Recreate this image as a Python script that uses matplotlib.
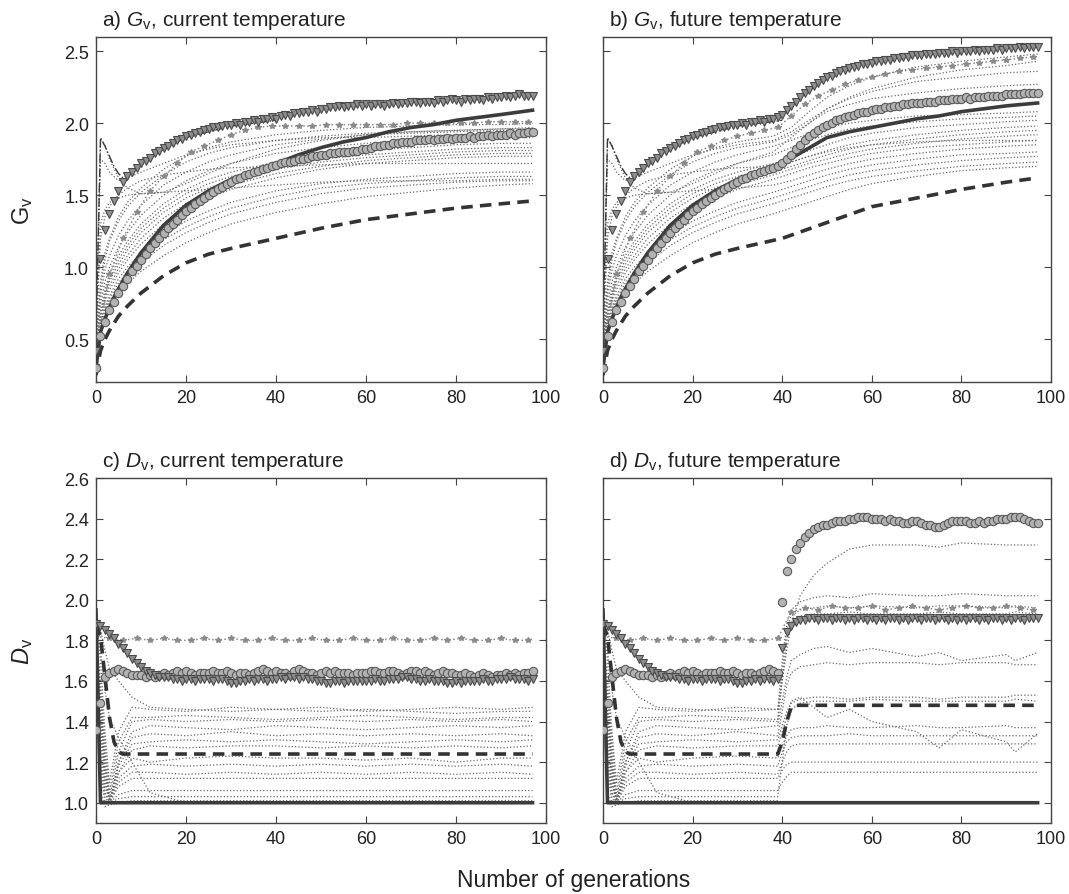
import matplotlib
matplotlib.use("Agg")
import matplotlib.pyplot as plt

plt.rcParams['font.family'] = ['Liberation Sans', 'DejaVu Sans']
plt.rcParams['mathtext.fontset'] = 'custom'
plt.rcParams['mathtext.rm'] = 'Liberation Sans'
plt.rcParams['mathtext.it'] = 'Liberation Sans:italic'

# generations 0..97 (marker series are given for every generation)
gens = list(range(98))
star_x = list(range(0, 98, 3))

# ---- a) Gv, current temperature ----
tri_a = [
    0.42, 1.06, 1.26, 1.37, 1.46, 1.53, 1.59, 1.63, 1.66, 1.69,
    1.72, 1.74, 1.76, 1.79, 1.81, 1.83, 1.84, 1.86, 1.88, 1.89,
    1.91, 1.92, 1.93, 1.94, 1.95, 1.96, 1.97, 1.97, 1.98, 1.99,
    1.99, 2.00, 1.99, 2.01, 2.01, 2.02, 2.01, 2.03, 2.03, 2.04,
    2.03, 2.05, 2.06, 2.05, 2.07, 2.07, 2.08, 2.08, 2.09, 2.08,
    2.10, 2.10, 2.11, 2.11, 2.12, 2.11, 2.12, 2.12, 2.13, 2.12,
    2.13, 2.12, 2.13, 2.13, 2.12, 2.13, 2.14, 2.13, 2.14, 2.14,
    2.15, 2.15, 2.14, 2.15, 2.15, 2.14, 2.16, 2.15, 2.16, 2.17,
    2.16, 2.15, 2.17, 2.16, 2.17, 2.17, 2.16, 2.18, 2.17, 2.18,
    2.18, 2.19, 2.18, 2.19, 2.20, 2.19, 2.19, 2.19]
circ_a = [
    0.30, 0.52, 0.62, 0.70, 0.76, 0.82, 0.87, 0.92, 0.97, 1.01,
    1.05, 1.09, 1.13, 1.17, 1.20, 1.24, 1.27, 1.30, 1.33, 1.36,
    1.39, 1.41, 1.44, 1.46, 1.48, 1.50, 1.52, 1.54, 1.56, 1.58,
    1.59, 1.61, 1.62, 1.64, 1.65, 1.66, 1.67, 1.68, 1.69, 1.70,
    1.71, 1.72, 1.73, 1.73, 1.74, 1.75, 1.75, 1.76, 1.77, 1.77,
    1.78, 1.78, 1.79, 1.79, 1.80, 1.80, 1.80, 1.81, 1.81, 1.82,
    1.82, 1.83, 1.84, 1.84, 1.85, 1.85, 1.86, 1.86, 1.87, 1.87,
    1.87, 1.88, 1.88, 1.88, 1.89, 1.88, 1.89, 1.89, 1.90, 1.89,
    1.90, 1.90, 1.90, 1.91, 1.90, 1.91, 1.91, 1.92, 1.91, 1.92,
    1.92, 1.92, 1.93, 1.92, 1.93, 1.93, 1.94, 1.94]
star_a = [0.42, 0.95, 1.20, 1.38, 1.53, 1.63, 1.72, 1.80, 1.84, 1.88,
          1.92, 1.95, 1.97, 1.98, 1.98, 1.98, 1.98, 1.99, 1.99, 1.99,
          1.99, 1.99, 1.99, 2.00, 2.00, 2.00, 2.00, 2.00, 2.00, 2.01,
          2.01, 2.01, 2.01]
sol_x_ab = [0, 1, 2, 3, 4, 5, 7, 10, 15, 20, 25, 30, 35, 40, 45, 50, 55,
            60, 65, 70, 75, 80, 85, 90, 97]
sol_a = [0.30, 0.55, 0.64, 0.72, 0.79, 0.85, 0.96, 1.10, 1.29, 1.43, 1.53,
         1.61, 1.67, 1.72, 1.78, 1.83, 1.87, 1.90, 1.94, 1.97, 1.99, 2.02,
         2.04, 2.06, 2.09]
dash_x_ab = [0, 1, 2, 3, 5, 7, 10, 15, 20, 25, 30, 40, 50, 60, 70, 80, 90, 97]
dash_a = [0.25, 0.42, 0.50, 0.56, 0.66, 0.73, 0.82, 0.94, 1.03, 1.09, 1.13,
          1.20, 1.27, 1.33, 1.37, 1.41, 1.44, 1.46]
dd_x = [0, 1, 2, 3, 4, 5, 6, 8, 10, 15, 20, 30, 40]
dd_ab = [0.50, 1.90, 1.84, 1.77, 1.70, 1.65, 1.62, 1.66, 1.71, 1.82, 1.90,
         1.98, 2.02]
xa = [0, 1, 2, 3, 5, 7, 10, 15, 20, 25, 30, 40, 50, 60, 70, 80, 90, 97]
dots_a = [
    [0.50, 0.90, 1.10, 1.20, 1.35, 1.45, 1.55, 1.68, 1.77, 1.83, 1.87, 1.92, 1.95, 1.97, 1.98, 1.99, 1.99, 2.00],
    [0.50, 1.88, 1.85, 1.75, 1.62, 1.55, 1.51, 1.52, 1.58, 1.65, 1.72, 1.82, 1.88, 1.92, 1.94, 1.95, 1.96, 1.97],
    [0.50, 1.75, 1.72, 1.66, 1.60, 1.62, 1.66, 1.72, 1.78, 1.82, 1.85, 1.88, 1.90, 1.90, 1.91, 1.92, 1.92, 1.93],
    [0.45, 0.80, 0.98, 1.08, 1.22, 1.32, 1.43, 1.57, 1.66, 1.73, 1.78, 1.85, 1.89, 1.92, 1.93, 1.94, 1.95, 1.95],
    [0.45, 0.75, 0.90, 1.00, 1.14, 1.24, 1.36, 1.50, 1.60, 1.67, 1.72, 1.79, 1.83, 1.86, 1.88, 1.89, 1.90, 1.90],
    [0.42, 0.70, 0.85, 0.95, 1.08, 1.18, 1.30, 1.44, 1.54, 1.61, 1.66, 1.73, 1.78, 1.81, 1.83, 1.85, 1.86, 1.86],
    [0.42, 0.68, 0.82, 0.92, 1.05, 1.15, 1.27, 1.41, 1.51, 1.58, 1.63, 1.70, 1.75, 1.78, 1.80, 1.82, 1.83, 1.83],
    [0.40, 0.66, 0.80, 0.90, 1.02, 1.12, 1.24, 1.38, 1.48, 1.55, 1.60, 1.68, 1.73, 1.76, 1.78, 1.80, 1.81, 1.81],
    [0.40, 0.64, 0.78, 0.87, 0.99, 1.08, 1.20, 1.34, 1.44, 1.52, 1.57, 1.65, 1.70, 1.74, 1.76, 1.78, 1.79, 1.79],
    [0.40, 0.62, 0.75, 0.84, 0.96, 1.05, 1.16, 1.30, 1.40, 1.48, 1.54, 1.62, 1.68, 1.72, 1.74, 1.76, 1.77, 1.77],
    [0.50, 1.30, 1.40, 1.45, 1.48, 1.50, 1.51, 1.52, 1.53, 1.54, 1.55, 1.57, 1.59, 1.60, 1.60, 1.60, 1.61, 1.61],
    [0.38, 0.60, 0.72, 0.80, 0.92, 1.00, 1.10, 1.22, 1.32, 1.39, 1.45, 1.53, 1.58, 1.61, 1.63, 1.65, 1.66, 1.66],
    [0.38, 0.58, 0.70, 0.78, 0.89, 0.97, 1.07, 1.19, 1.28, 1.35, 1.41, 1.49, 1.55, 1.58, 1.60, 1.62, 1.63, 1.63],
    [0.36, 0.56, 0.68, 0.76, 0.86, 0.94, 1.03, 1.15, 1.24, 1.31, 1.37, 1.45, 1.51, 1.55, 1.57, 1.59, 1.60, 1.60],
    [0.35, 0.55, 0.65, 0.72, 0.82, 0.89, 0.97, 1.08, 1.17, 1.24, 1.30, 1.38, 1.44, 1.49, 1.52, 1.55, 1.57, 1.58],
    [0.50, 1.20, 1.35, 1.42, 1.50, 1.55, 1.60, 1.64, 1.66, 1.68, 1.69, 1.70, 1.71, 1.72, 1.72, 1.72, 1.72, 1.72],
    [0.45, 0.85, 1.05, 1.18, 1.32, 1.42, 1.52, 1.64, 1.73, 1.79, 1.83, 1.88, 1.91, 1.93, 1.94, 1.95, 1.96, 1.96],
]

# ---- b) Gv, future temperature (same runs as a) up to generation 40) ----
tri_b = tri_a[:39] + [
    2.04, 2.06, 2.09, 2.12, 2.15, 2.18, 2.21, 2.23, 2.26, 2.28, 2.30,
    2.32, 2.33, 2.35, 2.36, 2.37, 2.38, 2.39, 2.40, 2.41, 2.41,
    2.42, 2.43, 2.43, 2.44, 2.44, 2.45, 2.45, 2.46, 2.46, 2.47,
    2.47, 2.47, 2.48, 2.48, 2.48, 2.49, 2.49, 2.49, 2.50, 2.49,
    2.50, 2.50, 2.50, 2.51, 2.50, 2.51, 2.51, 2.51, 2.52, 2.51,
    2.52, 2.52, 2.52, 2.53, 2.52, 2.53, 2.53, 2.53]
circ_b = circ_a[:40] + [
    1.72, 1.75, 1.78, 1.82, 1.85, 1.88, 1.91, 1.93, 1.95, 1.97,
    1.99, 2.00, 2.02, 2.03, 2.04, 2.05, 2.06, 2.07, 2.08, 2.08,
    2.09, 2.10, 2.10, 2.11, 2.11, 2.12, 2.12, 2.13, 2.13, 2.14,
    2.14, 2.14, 2.15, 2.15, 2.15, 2.16, 2.16, 2.16, 2.17, 2.17,
    2.17, 2.18, 2.17, 2.18, 2.18, 2.18, 2.19, 2.19, 2.19, 2.19,
    2.20, 2.20, 2.20, 2.20, 2.21, 2.21, 2.21, 2.21]
star_b = [0.42, 0.95, 1.20, 1.38, 1.53, 1.63, 1.72, 1.80, 1.84, 1.88,
          1.91, 1.93, 1.95, 1.97, 2.05, 2.13, 2.19, 2.23, 2.27, 2.30,
          2.32, 2.34, 2.36, 2.37, 2.38, 2.39, 2.40, 2.41, 2.42, 2.43,
          2.44, 2.45, 2.46]
sol_b = sol_a[:14] + [1.81, 1.90, 1.94, 1.97, 2.00, 2.03, 2.05, 2.08, 2.10,
                      2.12, 2.14]
dash_b = dash_a[:12] + [1.31, 1.42, 1.48, 1.54, 1.59, 1.62]
xb = [0, 1, 2, 3, 5, 7, 10, 15, 20, 25, 30, 38, 42, 46, 50, 55, 60, 70, 80, 90, 97]
dots_b = [
    [0.50, 0.90, 1.10, 1.20, 1.35, 1.45, 1.55, 1.68, 1.77, 1.83, 1.87, 1.91, 1.97, 2.08, 2.18, 2.26, 2.32, 2.39, 2.43, 2.46, 2.48],
    [0.50, 1.88, 1.85, 1.75, 1.62, 1.55, 1.51, 1.52, 1.58, 1.65, 1.72, 1.80, 1.90, 2.00, 2.10, 2.18, 2.24, 2.32, 2.37, 2.40, 2.43],
    [0.50, 1.75, 1.72, 1.66, 1.60, 1.62, 1.66, 1.72, 1.78, 1.82, 1.85, 1.88, 1.94, 2.02, 2.10, 2.17, 2.22, 2.29, 2.32, 2.35, 2.36],
    [0.45, 0.80, 0.98, 1.08, 1.22, 1.32, 1.43, 1.57, 1.66, 1.73, 1.78, 1.84, 1.88, 1.93, 1.97, 2.00, 2.02, 2.05, 2.06, 2.07, 2.08],
    [0.45, 0.75, 0.90, 1.00, 1.14, 1.24, 1.36, 1.50, 1.60, 1.67, 1.72, 1.78, 1.83, 1.88, 1.92, 1.96, 1.98, 2.01, 2.03, 2.04, 2.05],
    [0.42, 0.70, 0.85, 0.95, 1.08, 1.18, 1.30, 1.44, 1.54, 1.61, 1.66, 1.72, 1.76, 1.81, 1.85, 1.90, 1.93, 1.97, 1.99, 2.01, 2.02],
    [0.42, 0.68, 0.82, 0.92, 1.05, 1.15, 1.27, 1.41, 1.51, 1.58, 1.63, 1.69, 1.73, 1.77, 1.81, 1.85, 1.88, 1.92, 1.95, 1.97, 1.98],
    [0.40, 0.66, 0.80, 0.90, 1.02, 1.12, 1.24, 1.38, 1.48, 1.55, 1.60, 1.66, 1.70, 1.74, 1.78, 1.82, 1.85, 1.89, 1.92, 1.94, 1.95],
    [0.40, 0.64, 0.78, 0.87, 0.99, 1.08, 1.20, 1.34, 1.44, 1.52, 1.57, 1.64, 1.68, 1.72, 1.75, 1.79, 1.82, 1.86, 1.89, 1.91, 1.92],
    [0.40, 0.62, 0.75, 0.84, 0.96, 1.05, 1.16, 1.30, 1.40, 1.48, 1.54, 1.61, 1.65, 1.69, 1.72, 1.76, 1.79, 1.83, 1.85, 1.87, 1.88],
    [0.50, 1.30, 1.40, 1.45, 1.48, 1.50, 1.51, 1.52, 1.53, 1.54, 1.55, 1.57, 1.60, 1.64, 1.68, 1.72, 1.75, 1.79, 1.82, 1.84, 1.85],
    [0.38, 0.60, 0.72, 0.80, 0.92, 1.00, 1.10, 1.22, 1.32, 1.39, 1.45, 1.52, 1.56, 1.60, 1.64, 1.68, 1.71, 1.75, 1.78, 1.79, 1.80],
    [0.38, 0.58, 0.70, 0.78, 0.89, 0.97, 1.07, 1.19, 1.28, 1.35, 1.41, 1.48, 1.52, 1.56, 1.60, 1.64, 1.67, 1.71, 1.74, 1.76, 1.77],
    [0.36, 0.56, 0.68, 0.76, 0.86, 0.94, 1.03, 1.15, 1.24, 1.31, 1.37, 1.44, 1.48, 1.52, 1.56, 1.60, 1.63, 1.67, 1.70, 1.72, 1.73],
    [0.35, 0.55, 0.65, 0.72, 0.82, 0.89, 0.97, 1.08, 1.17, 1.24, 1.30, 1.37, 1.41, 1.45, 1.49, 1.54, 1.58, 1.63, 1.67, 1.69, 1.70],
    [0.50, 1.20, 1.35, 1.42, 1.50, 1.55, 1.60, 1.64, 1.66, 1.68, 1.69, 1.70, 1.73, 1.77, 1.80, 1.83, 1.85, 1.87, 1.88, 1.88, 1.88],
    [0.45, 0.85, 1.05, 1.18, 1.32, 1.42, 1.52, 1.64, 1.73, 1.79, 1.83, 1.87, 1.92, 2.00, 2.08, 2.13, 2.17, 2.21, 2.24, 2.26, 2.27],
]

# ---- c) Dv, current temperature ----
tri_c = [
    1.88, 1.87, 1.85, 1.83, 1.81, 1.78, 1.76, 1.74, 1.71, 1.69,
    1.67, 1.65, 1.64, 1.63, 1.62, 1.62, 1.62, 1.61, 1.61, 1.60,
    1.61, 1.61, 1.60, 1.61, 1.61, 1.61, 1.60, 1.61, 1.61, 1.60,
    1.59, 1.59, 1.60, 1.60, 1.61, 1.60, 1.61, 1.61, 1.60, 1.61,
    1.61, 1.62, 1.61, 1.62, 1.62, 1.61, 1.62, 1.61, 1.61, 1.60,
    1.60, 1.59, 1.59, 1.60, 1.60, 1.59, 1.60, 1.60, 1.60, 1.60,
    1.60, 1.60, 1.61, 1.60, 1.60, 1.61, 1.61, 1.61, 1.62, 1.62,
    1.61, 1.61, 1.60, 1.60, 1.61, 1.60, 1.60, 1.60, 1.59, 1.59,
    1.60, 1.59, 1.60, 1.60, 1.60, 1.60, 1.61, 1.60, 1.60, 1.61,
    1.61, 1.61, 1.62, 1.61, 1.61, 1.61, 1.60, 1.61]
circ_c = [
    1.36, 1.49, 1.62, 1.64, 1.65, 1.66, 1.65, 1.64, 1.63, 1.63,
    1.63, 1.62, 1.63, 1.62, 1.63, 1.64, 1.63, 1.64, 1.65, 1.64,
    1.65, 1.64, 1.63, 1.64, 1.64, 1.64, 1.65, 1.64, 1.64, 1.65,
    1.64, 1.63, 1.64, 1.64, 1.63, 1.64, 1.65, 1.66, 1.65, 1.64,
    1.65, 1.64, 1.64, 1.63, 1.65, 1.66, 1.65, 1.64, 1.64, 1.63,
    1.64, 1.65, 1.64, 1.65, 1.64, 1.64, 1.64, 1.63, 1.64, 1.64,
    1.64, 1.65, 1.65, 1.64, 1.64, 1.65, 1.65, 1.64, 1.63, 1.64,
    1.65, 1.65, 1.64, 1.65, 1.64, 1.63, 1.64, 1.65, 1.64, 1.64,
    1.63, 1.63, 1.64, 1.63, 1.62, 1.63, 1.64, 1.63, 1.62, 1.63,
    1.63, 1.64, 1.63, 1.64, 1.63, 1.64, 1.64, 1.65]
star_c = [1.82, 1.81, 1.80, 1.81, 1.80, 1.81, 1.80, 1.80, 1.81, 1.80,
          1.81, 1.80, 1.80, 1.81, 1.80, 1.80, 1.81, 1.80, 1.80, 1.81,
          1.80, 1.80, 1.81, 1.80, 1.80, 1.81, 1.80, 1.81, 1.80, 1.80,
          1.81, 1.80, 1.80]
sol_x_cd = [0, 1, 97]
sol_c = [1.95, 1.00, 1.00]
dash_x_c = [0, 1, 2, 3, 4, 5, 6, 97]
dash_c = [1.88, 1.82, 1.62, 1.42, 1.30, 1.25, 1.24, 1.24]
xc = [0, 1, 2, 3, 5, 8, 12, 20, 30, 40, 50, 60, 70, 80, 90, 97]
dots_c = [
    [1.90, 1.70, 1.35, 1.10, 1.35, 1.47, 1.46, 1.45, 1.47, 1.46, 1.47, 1.45, 1.46, 1.47, 1.46, 1.47],
    [1.90, 1.85, 1.75, 1.66, 1.60, 1.52, 1.47, 1.46, 1.45, 1.46, 1.45, 1.46, 1.45, 1.44, 1.45, 1.45],
    [1.85, 1.60, 1.30, 1.05, 1.30, 1.42, 1.42, 1.43, 1.42, 1.41, 1.42, 1.43, 1.42, 1.41, 1.42, 1.42],
    [1.85, 1.55, 1.25, 1.02, 1.25, 1.40, 1.41, 1.40, 1.41, 1.40, 1.41, 1.40, 1.41, 1.40, 1.41, 1.40],
    [1.80, 1.50, 1.20, 1.00, 1.20, 1.35, 1.38, 1.37, 1.36, 1.38, 1.37, 1.36, 1.37, 1.38, 1.37, 1.38],
    [1.80, 1.50, 1.20, 1.00, 1.20, 1.32, 1.34, 1.33, 1.35, 1.33, 1.34, 1.33, 1.34, 1.33, 1.34, 1.33],
    [1.75, 1.45, 1.15, 1.00, 1.18, 1.29, 1.30, 1.31, 1.30, 1.31, 1.30, 1.29, 1.30, 1.31, 1.30, 1.31],
    [1.75, 1.45, 1.15, 1.00, 1.15, 1.26, 1.28, 1.27, 1.28, 1.28, 1.27, 1.28, 1.27, 1.28, 1.27, 1.28],
    [1.70, 1.40, 1.10, 1.00, 1.15, 1.22, 1.20, 1.22, 1.23, 1.22, 1.22, 1.21, 1.22, 1.20, 1.22, 1.22],
    [1.70, 1.35, 1.10, 1.00, 1.12, 1.18, 1.19, 1.18, 1.19, 1.18, 1.19, 1.18, 1.19, 1.18, 1.19, 1.18],
    [1.65, 1.30, 1.05, 1.00, 1.10, 1.15, 1.15, 1.14, 1.15, 1.14, 1.15, 1.14, 1.15, 1.14, 1.15, 1.14],
    [1.60, 1.25, 1.05, 1.00, 1.08, 1.12, 1.12, 1.12, 1.12, 1.12, 1.12, 1.12, 1.12, 1.12, 1.12, 1.12],
    [1.90, 1.75, 1.55, 1.42, 1.32, 1.20, 1.05, 1.00, 1.00, 1.00, 1.00, 1.00, 1.00, 1.00, 1.00, 1.00],
    [1.60, 1.20, 1.02, 1.00, 1.04, 1.06, 1.06, 1.06, 1.06, 1.06, 1.06, 1.06, 1.06, 1.06, 1.06, 1.06],
    [1.55, 1.15, 1.00, 1.00, 1.02, 1.03, 1.03, 1.03, 1.03, 1.03, 1.03, 1.03, 1.03, 1.03, 1.03, 1.03],
    [1.50, 1.05, 0.98, 0.99, 1.00, 1.01, 1.01, 1.01, 1.01, 1.01, 1.01, 1.01, 1.01, 1.01, 1.01, 1.01],
]

# ---- d) Dv, future temperature (same runs as c) up to generation 40) ----
tri_d = tri_c[:40] + [
    1.76, 1.84, 1.87, 1.89, 1.90, 1.90, 1.91, 1.91, 1.90, 1.91,
    1.91, 1.90, 1.91, 1.91, 1.90, 1.91, 1.90, 1.91, 1.91, 1.90,
    1.91, 1.90, 1.91, 1.90, 1.91, 1.91, 1.90, 1.91, 1.90, 1.91,
    1.91, 1.90, 1.91, 1.91, 1.90, 1.91, 1.91, 1.90, 1.91, 1.90,
    1.91, 1.90, 1.91, 1.91, 1.90, 1.91, 1.90, 1.91, 1.91, 1.90,
    1.91, 1.90, 1.91, 1.91, 1.90, 1.91, 1.91, 1.91]
circ_d = circ_c[:40] + [
    1.99, 2.14, 2.20, 2.25, 2.28, 2.31, 2.33, 2.35, 2.36, 2.37,
    2.37, 2.38, 2.39, 2.39, 2.39, 2.40, 2.40, 2.41, 2.41, 2.41,
    2.40, 2.40, 2.40, 2.39, 2.40, 2.39, 2.39, 2.38, 2.38, 2.39,
    2.39, 2.38, 2.37, 2.37, 2.36, 2.36, 2.37, 2.38, 2.39, 2.39,
    2.39, 2.39, 2.38, 2.38, 2.39, 2.38, 2.39, 2.39, 2.40, 2.40,
    2.40, 2.41, 2.41, 2.41, 2.40, 2.39, 2.38, 2.38]
star_d = star_c[:14] + [1.94, 1.96, 1.95, 1.97, 1.96, 1.96, 1.97, 1.95, 1.96,
                        1.97, 1.96, 1.95, 1.96, 1.97, 1.96, 1.96, 1.97, 1.96,
                        1.95]
sol_d = [1.95, 1.00, 1.00]
dash_x_d = [0, 1, 2, 3, 4, 5, 6, 39, 40, 41, 42, 43, 97]
dash_d = [1.88, 1.82, 1.62, 1.42, 1.30, 1.25, 1.24, 1.24, 1.30, 1.40, 1.47,
          1.48, 1.48]
xd = [0, 1, 2, 3, 5, 8, 12, 20, 30, 39, 40, 41, 42, 44, 47, 50, 55, 60, 70,
      75, 80, 90, 92, 97]
dots_d = [
    [1.90, 1.70, 1.35, 1.10, 1.35, 1.47, 1.46, 1.45, 1.47, 1.46, 1.60, 1.75, 1.88, 2.02, 2.12, 2.18, 2.25, 2.27, 2.27, 2.26, 2.28, 2.27, 2.27, 2.27],
    [1.90, 1.85, 1.75, 1.66, 1.60, 1.52, 1.47, 1.46, 1.45, 1.46, 1.70, 1.88, 1.95, 1.99, 2.01, 2.02, 2.01, 2.03, 2.02, 2.02, 2.03, 2.02, 2.02, 2.02],
    [1.85, 1.60, 1.30, 1.05, 1.30, 1.42, 1.42, 1.43, 1.42, 1.41, 1.65, 1.85, 1.92, 1.95, 1.96, 1.97, 1.96, 1.97, 1.96, 1.97, 1.97, 1.96, 1.97, 1.96],
    [1.85, 1.55, 1.25, 1.02, 1.25, 1.40, 1.41, 1.40, 1.41, 1.40, 1.60, 1.80, 1.88, 1.92, 1.93, 1.93, 1.94, 1.93, 1.93, 1.94, 1.93, 1.93, 1.94, 1.93],
    [1.80, 1.50, 1.20, 1.00, 1.20, 1.35, 1.38, 1.37, 1.36, 1.38, 1.50, 1.62, 1.70, 1.73, 1.76, 1.77, 1.74, 1.76, 1.72, 1.74, 1.70, 1.73, 1.70, 1.74],
    [1.80, 1.50, 1.20, 1.00, 1.20, 1.32, 1.34, 1.33, 1.35, 1.33, 1.45, 1.58, 1.64, 1.67, 1.68, 1.69, 1.68, 1.69, 1.69, 1.68, 1.69, 1.69, 1.68, 1.68],
    [1.75, 1.45, 1.15, 1.00, 1.18, 1.29, 1.30, 1.31, 1.30, 1.31, 1.38, 1.45, 1.49, 1.51, 1.52, 1.52, 1.51, 1.52, 1.52, 1.51, 1.52, 1.52, 1.53, 1.53],
    [1.75, 1.45, 1.15, 1.00, 1.15, 1.26, 1.28, 1.27, 1.28, 1.28, 1.35, 1.42, 1.50, 1.52, 1.47, 1.42, 1.46, 1.40, 1.35, 1.27, 1.36, 1.30, 1.25, 1.34],
    [1.70, 1.40, 1.10, 1.00, 1.15, 1.22, 1.20, 1.22, 1.23, 1.22, 1.28, 1.33, 1.36, 1.37, 1.37, 1.38, 1.37, 1.37, 1.38, 1.37, 1.37, 1.38, 1.37, 1.37],
    [1.70, 1.35, 1.10, 1.00, 1.12, 1.18, 1.19, 1.18, 1.19, 1.18, 1.25, 1.30, 1.32, 1.33, 1.33, 1.33, 1.34, 1.33, 1.33, 1.33, 1.33, 1.33, 1.33, 1.33],
    [1.65, 1.30, 1.05, 1.00, 1.10, 1.15, 1.15, 1.14, 1.15, 1.14, 1.20, 1.25, 1.28, 1.29, 1.29, 1.29, 1.29, 1.29, 1.29, 1.29, 1.29, 1.29, 1.29, 1.29],
    [1.60, 1.25, 1.05, 1.00, 1.08, 1.12, 1.12, 1.12, 1.12, 1.12, 1.16, 1.19, 1.20, 1.20, 1.20, 1.20, 1.20, 1.20, 1.20, 1.20, 1.20, 1.20, 1.20, 1.20],
    [1.90, 1.75, 1.55, 1.42, 1.32, 1.20, 1.05, 1.00, 1.00, 1.00, 1.00, 1.00, 1.00, 1.00, 1.00, 1.00, 1.00, 1.00, 1.00, 1.00, 1.00, 1.00, 1.00, 1.00],
    [1.60, 1.20, 1.02, 1.00, 1.04, 1.06, 1.06, 1.06, 1.06, 1.06, 1.10, 1.13, 1.15, 1.15, 1.15, 1.15, 1.15, 1.15, 1.15, 1.15, 1.15, 1.15, 1.15, 1.15],
    [1.55, 1.15, 1.00, 1.00, 1.02, 1.03, 1.03, 1.03, 1.03, 1.03, 1.20, 1.38, 1.46, 1.49, 1.50, 1.50, 1.50, 1.51, 1.50, 1.50, 1.50, 1.50, 1.51, 1.50],
    [1.50, 1.05, 0.98, 0.99, 1.00, 1.01, 1.01, 1.01, 1.01, 1.01, 1.00, 1.00, 1.00, 1.00, 1.00, 1.00, 1.00, 1.00, 1.00, 1.00, 1.00, 1.00, 1.00, 1.00],
]

titles = [r"a) $G_{\mathrm{v}}$, current temperature",
          r"b) $G_{\mathrm{v}}$, future temperature",
          r"c) $D_{\mathrm{v}}$, current temperature",
          r"d) $D_{\mathrm{v}}$, future temperature"]


def draw_panel(ax, dx, dots, star, tri, circ, solx, sol, dashx, dash, dd=None):
    for ys in dots:
        ax.plot(dx, ys, ls=':', color='#6a6a6a', lw=0.9, zorder=1)
    ax.plot(star_x, star, ls=':', color='#8a8a8a', lw=1.1, marker='*', ms=4,
            mfc='#8a8a8a', mec='#8a8a8a', zorder=2)
    if dd is not None:
        ax.plot(dd_x, dd, ls='-.', color='#3a3a3a', lw=1.0, zorder=2)
    ax.plot(dashx, dash, color='#333333', lw=2.6, ls=(0, (3.2, 2.0)), zorder=3)
    ax.plot(solx, sol, color='#3c3c3c', lw=2.6, zorder=3)
    ax.plot(gens, circ, ls='none', marker='o', ms=6,
            mfc='#b2b2b2', mec='#5a5a5a', mew=0.8, zorder=4)
    ax.plot(gens, tri, ls='none', marker='v', ms=6,
            mfc='#8e8e8e', mec='#4a4a4a', mew=0.8, zorder=5)


fig = plt.figure(figsize=(10.69, 8.95), dpi=100)
ax_a = fig.add_axes([0.0898, 0.5717, 0.4210, 0.3861])
ax_b = fig.add_axes([0.5641, 0.5717, 0.4191, 0.3861])
ax_c = fig.add_axes([0.0898, 0.0793, 0.4210, 0.3855])
ax_d = fig.add_axes([0.5641, 0.0793, 0.4191, 0.3855])

draw_panel(ax_a, xa, dots_a, star_a, tri_a, circ_a, sol_x_ab, sol_a, dash_x_ab, dash_a, dd_ab)
draw_panel(ax_b, xb, dots_b, star_b, tri_b, circ_b, sol_x_ab, sol_b, dash_x_ab, dash_b, dd_ab)
draw_panel(ax_c, xc, dots_c, star_c, tri_c, circ_c, sol_x_cd, sol_c, dash_x_c, dash_c)
draw_panel(ax_d, xd, dots_d, star_d, tri_d, circ_d, sol_x_cd, sol_d, dash_x_d, dash_d)

for i, ax in enumerate([ax_a, ax_b, ax_c, ax_d]):
    ax.set_xlim(0, 100)
    ax.set_xticks([0, 20, 40, 60, 80, 100])
    if i < 2:
        ax.set_ylim(0.2, 2.6)
        ax.set_yticks([0.5, 1.0, 1.5, 2.0, 2.5])
    else:
        ax.set_ylim(0.9, 2.6)
        ax.set_yticks([1.0, 1.2, 1.4, 1.6, 1.8, 2.0, 2.2, 2.4, 2.6])
    ax.yaxis.set_major_formatter(matplotlib.ticker.FormatStrFormatter('%.1f'))
    ax.tick_params(direction='in', top=True, right=True, length=5, width=0.8,
                   labelsize=13, pad=5, colors='#444444', labelcolor='#222222')
    if i in (1, 3):
        ax.tick_params(labelleft=False)
    for sp in ax.spines.values():
        sp.set_color('#444444')
        sp.set_linewidth(1.0)
    ax.text(0.013, 1.034, titles[i], transform=ax.transAxes, ha='left',
            va='baseline', fontsize=15, color='#222222')

fig.text(0.0215, 0.7648, r"$\mathrm{G}_{\mathrm{v}}$", rotation=90, ha='center',
         va='center', fontsize=17, color='#222222')
fig.text(0.0215, 0.2721, r"$D_{\mathrm{v}}$", rotation=90, ha='center',
         va='center', fontsize=17, color='#222222')
fig.text(0.537, 0.0085, "Number of generations", ha='center', va='baseline',
         fontsize=16.5, color='#222222')

fig.savefig("out.png", dpi=100)
